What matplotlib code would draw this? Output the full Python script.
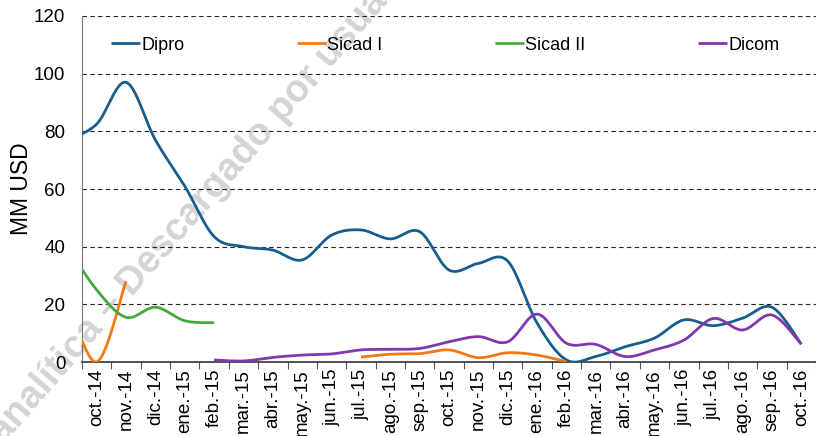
import numpy as np
import matplotlib
matplotlib.use("Agg")
import matplotlib.pyplot as plt

plt.rcParams["font.family"] = ["Liberation Sans", "DejaVu Sans"]

months = ["sep.-14", "oct.-14", "nov.-14", "dic.-14", "ene.-15", "feb.-15", "mar.-15", "abr.-15",
          "may.-15", "jun.-15", "jul.-15", "ago.-15", "sep.-15", "oct.-15", "nov.-15",
          "dic.-15", "ene.-16", "feb.-16", "mar.-16", "abr.-16", "may.-16", "jun.-16",
          "jul.-16", "ago.-16", "sep.-16", "oct.-16"]
N = None
dipro = [77, 82.5, 97, 77, 61, 43.5, 40, 38.8, 35.4, 44, 45.8, 42.7, 45.2, 31.9, 34.2,
         35, 13.5, 0.7, 1.9, 5.3, 8.3, 14.6, 12.6, 15.2, 19, 6.2]
sicad1 = [22, 0, 28, N, N, N, N, N, N, N, 1.7, 2.7, 2.9, 4.2, 1.5,
          3.2, 2.4, 0.1, N, N, N, N, N, N, N, N]
sicad2 = [40, 25, 15.5, 19, 14.3, 13.6, N, N, N, N, N, N, N, N, N,
          N, N, N, N, N, N, N, N, N, N, N]
dicom = [N, N, N, N, N, 0.7, 0.35, 1.6, 2.4, 2.8, 4.2, 4.4, 4.7, 7, 8.8,
         7, 16.6, 6.5, 6.1, 1.9, 4.2, 7.6, 15.1, 11.1, 16.3, 6.2]

series = [("Dipro", dipro, "#175E8E"), ("Sicad I", sicad1, "#F07A13"),
          ("Sicad II", sicad2, "#45A83A"), ("Dicom", dicom, "#8037B0")]


def catmull(xs, ys, n=30):
    xs = np.asarray(xs, float); ys = np.asarray(ys, float)
    if len(xs) < 2:
        return xs, ys
    px = np.concatenate([[xs[0]], xs, [xs[-1]]])
    py = np.concatenate([[ys[0]], ys, [ys[-1]]])
    ox, oy = [], []
    t = np.linspace(0, 1, n)
    for i in range(1, len(px) - 2):
        for P, out in ((px, ox), (py, oy)):
            p0, p1, p2, p3 = P[i - 1], P[i], P[i + 1], P[i + 2]
            c1 = p1 + (p2 - p0) / 6
            c2 = p2 - (p3 - p1) / 6
            out.extend((1 - t) ** 3 * p1 + 3 * (1 - t) ** 2 * t * c1 + 3 * (1 - t) * t ** 2 * c2 + t ** 3 * p2)
    return np.array(ox), np.array(oy)


fig = plt.figure(figsize=(8.16, 4.36), dpi=100)
ax = fig.add_axes([82 / 816, 1 - 362 / 436, 1 - 82 / 816, (362 - 16) / 436])
ax.patch.set_alpha(0)

fig.text(189 / 816, 1 - 217 / 436, "analítica – Descargado por usua", rotation=49,
         fontsize=27.5, color="#d4d4d4", ha="center", va="center", fontweight="bold",
         rotation_mode="anchor", zorder=-1)

x = np.arange(len(months)) - 1
for name, vals, col in series:
    first = True
    seg_x, seg_y = [], []
    for xi, v in list(zip(x, vals)) + [(None, None)]:
        if v is None:
            if seg_x:
                sx, sy = catmull(seg_x, seg_y)
                ax.plot(sx, sy, color=col, lw=2.0, label=name if first else None,
                        solid_capstyle="butt", zorder=3)
                first = False
            seg_x, seg_y = [], []
        else:
            seg_x.append(xi); seg_y.append(v)

ax.set_xlim(-0.5, len(months) - 1.5)
ax.set_ylim(0, 120)
ax.set_yticks(range(0, 121, 20))
for yv in range(20, 121, 20):
    ax.axhline(yv, color="#222222", lw=0.8, ls=(0, (4, 3)), zorder=1)
ax.tick_params(axis="y", length=0, labelsize=13.5, pad=12)
ax.set_xticks(np.arange(-0.5, len(months) - 1, 1), minor=False)
ax.set_xticklabels([])
ax.set_xticks(np.arange(0, len(months) - 1), minor=True)
ax.set_xticklabels(months[1:], minor=True, rotation=90, fontsize=13.5)
ax.tick_params(axis="x", which="major", length=5, width=0.8, color="#555555", direction="out")
ax.tick_params(axis="x", which="minor", length=0, pad=5)
for s in ("top", "right"):
    ax.spines[s].set_visible(False)
ax.spines["left"].set_color("#777777")
ax.spines["bottom"].set_color("#333333")
ax.spines["bottom"].set_linewidth(1.2)
ax.set_ylabel("MM USD", fontsize=16.5, labelpad=1)

leg = ax.legend(loc="center", bbox_to_anchor=(0.03, 0.916, 0.93, 0), mode="expand",
                ncol=4, frameon=False, fontsize=13, handlelength=1.6, handletextpad=0.08,
                borderaxespad=0)

fig.savefig("out.png", dpi=100)
